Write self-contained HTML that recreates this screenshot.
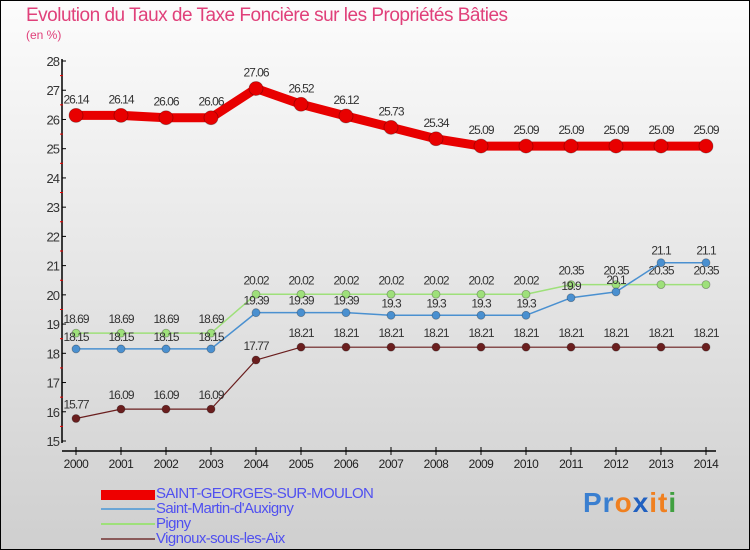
<!DOCTYPE html>
<html><head><meta charset="utf-8"><style>
body{margin:0;width:750px;height:550px;overflow:hidden;font-family:"Liberation Sans",sans-serif}
#wrap{position:relative;width:748px;height:548px;border:1px solid #000;background:linear-gradient(#fcfcfc,#cfcfcf)}
.t{position:absolute;white-space:nowrap}
.lg{font-size:15px;color:#5050f0;letter-spacing:-0.6px}
</style></head><body>
<div id="wrap">
<div class="t" style="left:25px;top:4px;font-size:19px;color:#e0407a;letter-spacing:-0.5px">Evolution du Taux de Taxe Foncière sur les Propriétés Bâties</div>
<div class="t" style="left:25px;top:27px;font-size:12px;color:#e0407a">(en %)</div>
<svg id="chart" width="750" height="470" style="position:absolute;left:-1px;top:-1px"></svg>
<div>
<div style="position:absolute;left:100px;top:489px;width:54px;height:10px;background:#e00"></div>
<div class="t lg" style="left:155px;top:484px">SAINT-GEORGES-SUR-MOULON</div>
<div style="position:absolute;left:100px;top:507px;width:54px;height:2px;background:#6aa6d6"></div>
<div class="t lg" style="left:155px;top:499px">Saint-Martin-d'Auxigny</div>
<div style="position:absolute;left:100px;top:522px;width:54px;height:2px;background:#9ee07a"></div>
<div class="t lg" style="left:155px;top:514px">Pigny</div>
<div style="position:absolute;left:100px;top:537px;width:54px;height:2px;background:#8a5a5a"></div>
<div class="t lg" style="left:155px;top:529px">Vignoux-sous-les-Aix</div>
</div>
<div class="t" style="left:582px;top:486px;font-size:28px;font-weight:bold;letter-spacing:1px"><span style="color:#3a7fd0">Pr</span><span style="color:#f08020">o</span><span style="color:#2060c0">x</span><span style="color:#f08020">it</span><span style="color:#40a040">i</span></div>
</div>
<script>
const years=[2000,2001,2002,2003,2004,2005,2006,2007,2008,2009,2010,2011,2012,2013,2014];
const yTicks=[15,16,17,18,19,20,21,22,23,24,25,26,27,28];
const sgm=[26.14,26.14,26.06,26.06,27.06,26.52,26.12,25.73,25.34,25.09,25.09,25.09,25.09,25.09,25.09];
const martin=[18.15,18.15,18.15,18.15,19.39,19.39,19.39,19.3,19.3,19.3,19.3,19.9,20.1,21.1,21.1];
const pigny=[18.69,18.69,18.69,18.69,20.02,20.02,20.02,20.02,20.02,20.02,20.02,20.35,20.35,20.35,20.35];
const vignoux=[15.77,16.09,16.09,16.09,17.77,18.21,18.21,18.21,18.21,18.21,18.21,18.21,18.21,18.21,18.21];
const NS="http://www.w3.org/2000/svg",svg=document.getElementById('chart');
const X=i=>76+i*45, Y=v=>441-(v-15)*29.23;
function mk(t,a,p){const e=document.createElementNS(NS,t);for(const k in a)e.setAttribute(k,a[k]);(p||svg).appendChild(e);return e;}
let ax=mk('line',{x1:62,y1:Y(28)-2,x2:62,y2:Y(15)+2,stroke:'#000','stroke-width':1.5});


let xa=mk('line',{x1:62,y1:451,x2:716,y2:451,stroke:'#000','stroke-width':1.5});


yTicks.forEach(v=>{
 mk('line',{x1:62,y1:Y(v),x2:66,y2:Y(v),stroke:'#000'});
 if(v<28)mk('line',{x1:60,y1:Y(v+0.5),x2:63,y2:Y(v+0.5),stroke:'#e00'});
 const t=mk('text',{x:59,y:Y(v)+5,'text-anchor':'end','font-size':13,fill:'#333','letter-spacing':'-1'});t.textContent=v;
 
 
});
years.forEach((y,i)=>{
 mk('line',{x1:X(i),y1:447,x2:X(i),y2:455,stroke:'#000'});
 const t=mk('text',{x:X(i),y:468,'text-anchor':'middle','font-size':12,fill:'#222','letter-spacing':'-0.5'});t.textContent=y;
 
 
});
function series(vals,color,w,r,name,dy){
 const g=mk('g',{});
 
 
 mk('polyline',{points:vals.map((v,i)=>X(i)+','+Y(v)).join(' '),fill:'none',stroke:color,'stroke-width':w,'stroke-linejoin':'round'},g);
 vals.forEach((v,i)=>{
  const c=mk('circle',{cx:X(i),cy:Y(v),r:r,fill:color,stroke:'rgba(0,0,0,0.3)','stroke-width':0.8},g);
  
  
  const t=mk('text',{x:X(i),y:Y(v)+dy,'text-anchor':'middle','font-size':12,fill:'#333','letter-spacing':'-1'},g);t.textContent=v;
  
  
 });
}
series(vignoux,'#6a1e1e',1.2,4,'series-vignoux',-10);
series(pigny,'#9ee07a',1.5,4,'series-pigny',-10);
series(martin,'#4a90d0',1.5,4,'series-saint-martin',-8);
series(sgm,'#e80000',9,7,'series-saint-georges',-12);
</script>
</body></html>
